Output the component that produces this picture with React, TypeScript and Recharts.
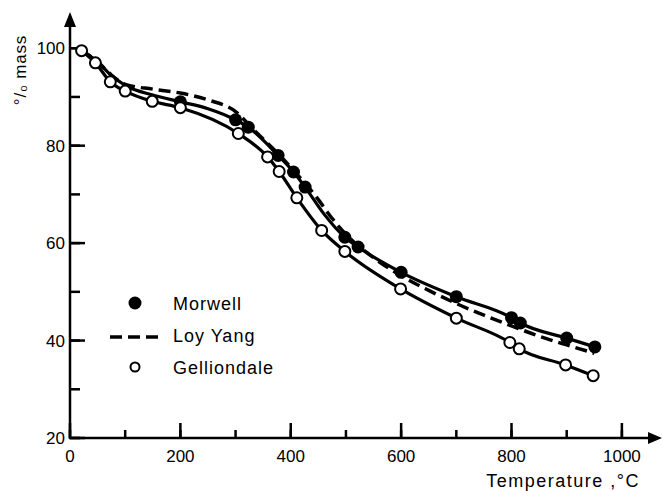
import React from 'react';
import { ComposedChart, Line, Scatter, XAxis, YAxis, Legend } from 'recharts';

const FONT = '"Liberation Sans", Arial, sans-serif';

const xAllTicks = [0, 100, 200, 300, 400, 500, 600, 700, 800, 900, 1000];
const xMajorTicks = [0, 200, 400, 600, 800, 1000];
const yAllTicks = [20, 30, 40, 50, 60, 70, 80, 90, 100];
const yMajorTicks = [20, 40, 60, 80, 100];
const seriesNames = ['Morwell', 'Loy Yang', 'Gelliondale'];

// smooth curve drawn through the Morwell points (the early part has no markers)
const morwellLine = [
  { x: 20, y: 99.6 }, { x: 50, y: 97.2 }, { x: 75, y: 94.4 }, { x: 100, y: 92.4 },
  { x: 150, y: 90.4 }, { x: 200, y: 89.0 }, { x: 250, y: 87.6 }, { x: 300, y: 85.3 },
  { x: 323, y: 83.8 }, { x: 377, y: 78.0 }, { x: 405, y: 74.6 }, { x: 426, y: 71.5 },
  { x: 460, y: 66.0 }, { x: 498, y: 61.2 }, { x: 522, y: 59.2 }, { x: 600, y: 54.0 },
  { x: 700, y: 49.0 }, { x: 800, y: 44.7 }, { x: 816, y: 43.6 }, { x: 900, y: 40.5 },
  { x: 951, y: 38.7 },
];

const morwellPoints = [
  { x: 200, y: 89.0 }, { x: 300, y: 85.3 }, { x: 323, y: 83.8 }, { x: 377, y: 78.0 },
  { x: 405, y: 74.6 }, { x: 426, y: 71.5 }, { x: 498, y: 61.2 }, { x: 522, y: 59.2 },
  { x: 600, y: 54.0 }, { x: 700, y: 49.0 }, { x: 800, y: 44.7 }, { x: 816, y: 43.6 },
  { x: 900, y: 40.5 }, { x: 951, y: 38.7 },
];

const loyYangLine = [
  { x: 20, y: 99.6 }, { x: 50, y: 97.2 }, { x: 75, y: 94.5 }, { x: 100, y: 92.6 },
  { x: 150, y: 91.6 }, { x: 200, y: 90.8 }, { x: 250, y: 89.4 }, { x: 300, y: 87.0 },
  { x: 335, y: 83.0 }, { x: 375, y: 78.6 }, { x: 410, y: 74.3 }, { x: 447, y: 69.4 },
  { x: 474, y: 65.2 }, { x: 500, y: 61.8 }, { x: 550, y: 57.0 }, { x: 600, y: 53.3 },
  { x: 650, y: 50.3 }, { x: 700, y: 47.6 }, { x: 750, y: 45.2 }, { x: 800, y: 43.0 },
  { x: 850, y: 40.9 }, { x: 900, y: 39.1 }, { x: 950, y: 37.4 },
];

const gelliondalePoints = [
  { x: 21, y: 99.5 }, { x: 46, y: 97.0 }, { x: 73, y: 93.1 }, { x: 100, y: 91.2 },
  { x: 149, y: 89.1 }, { x: 200, y: 87.8 }, { x: 305, y: 82.5 }, { x: 358, y: 77.7 },
  { x: 379, y: 74.7 }, { x: 411, y: 69.3 }, { x: 456, y: 62.6 }, { x: 498, y: 58.3 },
  { x: 599, y: 50.6 }, { x: 700, y: 44.6 }, { x: 797, y: 39.6 }, { x: 814, y: 38.3 },
  { x: 898, y: 35.0 }, { x: 948, y: 32.8 },
];

const tickFont = { fontSize: 17, fontFamily: FONT, fill: '#000' };
const hiddenTick = { fill: 'none', fontSize: 1 };
const blank = () => '';
const axisStroke = { stroke: '#000', strokeWidth: 2.5 };

function XDecor(props: any) {
  const { x, y, width } = props.viewBox;
  const end = x + width;
  return (
    <g>
      <polygon points={`${end - 7},${y - 6} ${end - 7},${y + 6} ${end + 7},${y}`} fill="#000" />
      <text x={end - 15} y={y + 49} textAnchor="end" fontSize={18} letterSpacing={1.5} fontFamily={FONT} fill="#000">
        Temperature ,°C
      </text>
    </g>
  );
}

function YDecor(props: any) {
  const { x, y, width } = props.viewBox;
  const ax = x + width;
  return (
    <g>
      <polygon points={`${ax - 6},${y + 8} ${ax + 6},${y + 8} ${ax},${y - 7}`} fill="#000" />
      <text
        transform={`translate(${ax - 44}, ${y + 51}) rotate(-90)`}
        textAnchor="middle"
        fontSize={17}
        letterSpacing={0.8}
        fontFamily={FONT}
        fill="#000"
      >
        °/₀ mass
      </text>
    </g>
  );
}

function LegendBox() {
  return (
    <svg width={240} height={95} style={{ display: 'block' }}>
      <circle cx={35} cy={13} r={6.5} fill="#000" />
      <line x1={10} x2={58} y1={47} y2={47} stroke="#000" strokeWidth={3.5} strokeDasharray="12 6" />
      <circle cx={35} cy={77} r={4.5} fill="#fff" stroke="#000" strokeWidth={2} />
      {seriesNames.map((name, i) => (
        <text key={name} x={73} y={20 + i * 32} fontSize={18} letterSpacing={1} fontFamily={FONT} fill="#000">
          {name}
        </text>
      ))}
    </svg>
  );
}

const filledDot = (p: any) => <circle cx={p.cx} cy={p.cy} r={6.5} fill="#000" />;
const openDot = (p: any) => <circle cx={p.cx} cy={p.cy} r={5.5} fill="#fff" stroke="#000" strokeWidth={2} />;

export default function App() {
  return (
    <div style={{ position: 'absolute', left: 0, top: 0, width: 662, height: 491, background: '#fff' }}>
      <ComposedChart width={662} height={491} margin={{ top: 19, right: 7, left: 20, bottom: 0 }}>
        {/* outer axes: long ticks and labels */}
        <XAxis xAxisId="lbl" type="number" dataKey="x" domain={[0, 1060]} ticks={xMajorTicks} interval={0}
          tickSize={-16} tickMargin={27} tick={tickFont} tickLine={axisStroke} axisLine={false}
          height={52} allowDataOverflow />
        {/* inner axes: axis line, short ticks everywhere */}
        <XAxis type="number" dataKey="x" domain={[0, 1060]} ticks={xAllTicks} interval={0}
          tickSize={-8} tick={hiddenTick} tickFormatter={blank} tickLine={axisStroke} axisLine={axisStroke}
          height={1} allowDataOverflow label={{ content: XDecor }} />
        <YAxis yAxisId="lbl" type="number" dataKey="y" domain={[20, 106]} ticks={yMajorTicks} interval={0}
          tickSize={-16} tickMargin={20} tick={tickFont} tickLine={axisStroke} axisLine={false}
          width={49} allowDataOverflow />
        <YAxis type="number" dataKey="y" domain={[20, 106]} ticks={yAllTicks} interval={0}
          tickSize={-10} tick={hiddenTick} tickFormatter={blank} tickLine={axisStroke} axisLine={axisStroke}
          width={1} allowDataOverflow label={{ content: YDecor }} />
        <Legend layout="vertical" align="center" verticalAlign="middle" content={LegendBox}
          wrapperStyle={{ position: 'absolute', left: 100, top: 290, width: 240, height: 95 }} />
        <Line data={gelliondalePoints} dataKey="y" type="monotone" stroke="#000" strokeWidth={3.2} dot={false} activeDot={false} isAnimationActive={false} legendType="none" />
        <Line data={morwellLine} dataKey="y" type="monotone" stroke="#000" strokeWidth={3.2} dot={false} activeDot={false} isAnimationActive={false} legendType="none" />
        <Line data={loyYangLine} dataKey="y" type="monotone" stroke="#000" strokeWidth={3.5} strokeDasharray="12 6" dot={false} activeDot={false} isAnimationActive={false} legendType="none" />
        <Scatter data={morwellPoints} dataKey="y" shape={filledDot} isAnimationActive={false} legendType="none" />
        <Scatter data={gelliondalePoints} dataKey="y" shape={openDot} isAnimationActive={false} legendType="none" />
      </ComposedChart>
    </div>
  );
}
